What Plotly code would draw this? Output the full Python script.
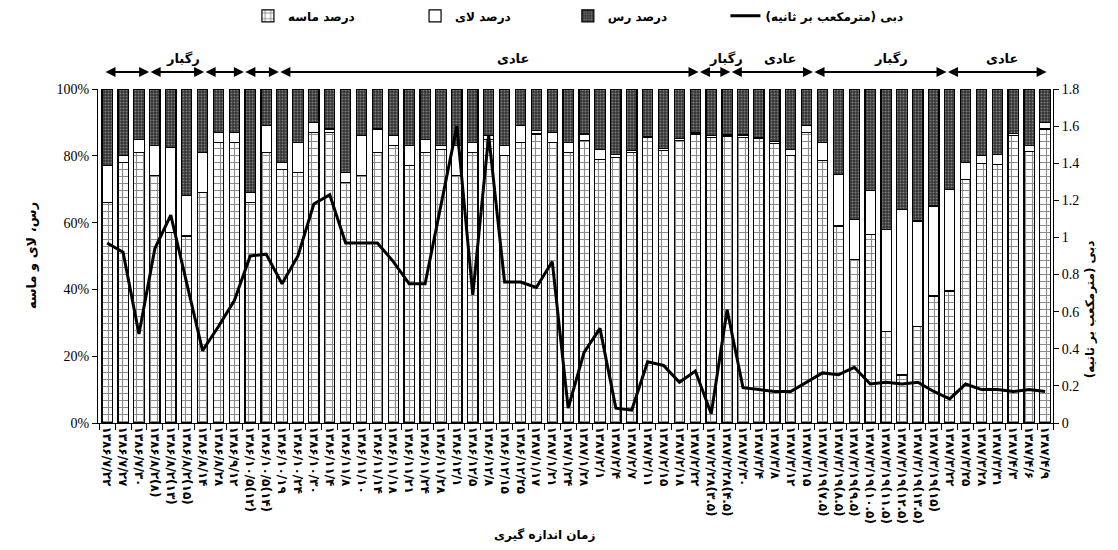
import plotly.graph_objects as go

# ---------------- data ----------------
dates_ascii = [
    "1386/7/22", "1386/7/27", "1386/7/30", "1386/8/2(8)", "1386/8/2(13)", "1386/8/2(15)",
    "1386/8/14", "1386/8/28", "1386/9/12", "1386/10/5(12)", "1386/10/5(14)", "1386/10/19",
    "1386/10/24", "1386/10/30", "1386/11/4", "1386/11/8", "1386/11/10", "1386/11/14",
    "1386/11/18", "1386/11/21", "1386/11/24", "1386/11/28", "1386/12/1", "1386/12/5",
    "1386/12/8", "1386/12/15", "1386/12/25", "1387/1/17", "1387/1/21", "1387/1/24",
    "1387/1/28", "1387/2/1", "1387/2/4", "1387/2/7", "1387/2/11", "1387/2/15",
    "1387/2/18", "1387/2/22", "1387/2/28(3.5)", "1387/2/28(4.5)", "1387/2/30", "1387/3/4",
    "1387/3/8", "1387/3/12", "1387/3/15", "1387/3/19(7.5)", "1387/3/19(8.5)", "1387/3/19(9.5)",
    "1387/3/19(10.5)", "1387/3/19(11.5)", "1387/3/19(12.5)", "1387/3/19(13.5)", "1387/3/19(15)", "1387/3/22",
    "1387/3/25", "1387/3/28", "1387/3/31", "1387/4/3", "1387/4/6", "1387/4/9",
]
FA = str.maketrans("0123456789", "۰۱۲۳۴۵۶۷۸۹")
dates = [d.translate(FA) for d in dates_ascii]

sand = [66, 78, 81, 74, 57, 56, 69, 84, 84, 66, 81, 76, 75, 87, 87, 72, 74, 81, 83, 77,
        81, 82, 74, 81, 85, 80, 84, 86.5, 84, 81, 84.5, 79, 79.5, 81, 85.5, 81.7, 84.7, 86.5, 85.5, 85.9,
        85.5, 85.2, 83.7, 80, 87, 78.5, 59, 49, 56.5, 27.5, 14.4, 29, 38, 39.5, 73, 77.7, 77.5, 86, 81.4, 88]
silt = [11, 2, 4, 9, 25.5, 12, 12, 3, 3, 3, 8, 2, 9, 3, 1, 3, 12, 7, 3, 6,
        4, 1, 9, 3, 1, 3, 5, 1, 3, 3, 2, 3, 1, 0.5, 0.3, 0.5, 0.5, 0.3, 0.5, 0.3,
        0.7, 0.3, 0.7, 2, 2, 5.5, 15.5, 12, 13, 30.5, 49.6, 31.5, 27, 30.3, 5, 2.5, 3, 0.7, 1.8, 2]
clay = [23, 20, 15, 17, 17.5, 32, 19, 13, 13, 31, 11, 22, 16, 10, 12, 25, 14, 12, 14, 17,
        15, 17, 17, 16, 14, 17, 11, 12.5, 13, 16, 13.5, 18, 19.5, 18.5, 14.2, 17.8, 14.8, 13.2, 14, 13.8,
        13.8, 14.5, 15.6, 18, 11, 16, 25.5, 39, 30.5, 42, 36, 39.5, 35, 30.2, 22, 19.8, 19.5, 13.3, 16.8, 10]
discharge = [0.97, 0.92, 0.48, 0.94, 1.12, 0.76, 0.39, 0.52, 0.66, 0.90, 0.91, 0.75, 0.90, 1.18, 1.23,
             0.97, 0.97, 0.97, 0.87, 0.75, 0.75, 1.17, 1.60, 0.69, 1.55, 0.76, 0.76, 0.73, 0.87, 0.08,
             0.38, 0.51, 0.08, 0.07, 0.33, 0.31, 0.22, 0.28, 0.05, 0.61, 0.19, 0.18, 0.17, 0.17, 0.22,
             0.27, 0.26, 0.30, 0.21, 0.22, 0.21, 0.22, 0.17, 0.13, 0.21, 0.18, 0.18, 0.17, 0.18, 0.17]

# flow-regime periods along the top (category-index boundaries)
period_bounds = [-0.2, 2.64, 6.1, 8.6, 10.8, 37.2, 39.2, 44.4, 52.8, 59.1]
period_names = ["رگبار", "عادی", "رگبار", "عادی", "رگبار", "عادی"]
period_label_x = [4.8, 25.5, 38.9, 42.3, 49.3, 56.3]

name_sand = "درصد ماسه"
name_silt = "درصد لای"
name_clay = "درصد رس"
name_q = "\u200fدبی (مترمکعب بر ثانیه)\u200f"
title_y = "رس، لای و ماسه"
title_y2 = "\u200fدبی (مترمکعب بر ثانیه)\u200f"
title_x = "زمان اندازه گیری"

FA_FONT = "DejaVu Sans"
SERIF = "Liberation Serif"

fig = go.Figure()
fig.add_trace(go.Bar(
    x=dates, y=sand, name=name_sand, legend="legend",
    marker=dict(color="white", line=dict(color="black", width=1.2),
                pattern=dict(shape="+", fgcolor="#1a1a1a", bgcolor="white", size=7, solidity=0.3)),
))
fig.add_trace(go.Bar(
    x=dates, y=silt, name=name_silt, legend="legend2",
    marker=dict(color="white", line=dict(color="black", width=1.2)),
))
fig.add_trace(go.Bar(
    x=dates, y=clay, name=name_clay, legend="legend3",
    marker=dict(color="#3c3c3c", line=dict(color="black", width=1.2),
                pattern=dict(shape=".", fgcolor="#c8c8c8", bgcolor="#333333", size=3, solidity=0.35)),
))
fig.add_trace(go.Scatter(
    x=dates, y=discharge, name=name_q, yaxis="y2", mode="lines", legend="legend4",
    line=dict(color="black", width=3),
))

annotations = []
Y_ARROW = 1.051  # paper units
Y_LABEL = 1.09
for i in range(len(period_bounds) - 1):
    annotations.append(dict(
        x=period_bounds[i + 1], y=Y_ARROW, ax=period_bounds[i], ay=0,
        xref="x", yref="paper", axref="x", ayref="pixel", text="", showarrow=True,
        arrowhead=2, arrowside="end+start", arrowwidth=2, arrowsize=1, arrowcolor="black",
    ))
for name, xp in zip(period_names, period_label_x):
    annotations.append(dict(x=xp, y=Y_LABEL, xref="x", yref="paper", yanchor="middle",
                            text=name, showarrow=False,
                            font=dict(family=FA_FONT, size=13, color="black", weight="bold")))

annotations.append(dict(x=-0.08, y=0.5, xref="paper", yref="paper", text=title_y, textangle=-90,
                        showarrow=False, font=dict(family=FA_FONT, size=13, color="black", weight="bold")))
annotations.append(dict(x=1.049, y=0.34, xref="paper", yref="paper", text=title_y2, textangle=-90,
                        showarrow=False, font=dict(family=FA_FONT, size=12, color="black", weight="bold")))
annotations.append(dict(x=0.468, y=-0.362, xref="paper", yref="paper", text=title_x,
                        showarrow=False, font=dict(family=FA_FONT, size=12, color="black", weight="bold")))

leg_common = dict(orientation="h", yanchor="middle", xanchor="left", y=1.219,
                  bgcolor="rgba(0,0,0,0)", font=dict(family=FA_FONT, size=12, color="black", weight="bold"))

fig.update_layout(
    width=1110, height=542,
    margin=dict(l=90, r=65, t=81, b=127, autoexpand=False),
    paper_bgcolor="white", plot_bgcolor="white",
    barmode="stack", bargap=0.35,
    showlegend=True,
    legend=dict(x=0.157, **leg_common),
    legend2=dict(x=0.332, **leg_common),
    legend3=dict(x=0.492, **leg_common),
    legend4=dict(x=0.657, **leg_common),
    xaxis=dict(type="category", tickangle=90, tickson="boundaries", ticks="outside", ticklen=6,
               tickcolor="black", showline=True, linecolor="black", linewidth=1, showgrid=False,
               automargin=False,
               tickfont=dict(family=FA_FONT, size=12, color="black", weight="bold")),
    yaxis=dict(range=[0, 100], dtick=20, ticksuffix="%", ticks="outside", ticklen=5, tickcolor="black",
               showline=True, linecolor="black", linewidth=1, showgrid=False, zeroline=False,
               automargin=False, tickfont=dict(family=SERIF, size=14, color="black")),
    yaxis2=dict(range=[0, 1.8], dtick=0.2, overlaying="y", side="right", ticks="outside", ticklen=5,
                tickcolor="black", showline=True, linecolor="black", linewidth=1, showgrid=False,
                zeroline=False, automargin=False, tickfont=dict(family=SERIF, size=14, color="black")),
    annotations=annotations,
)

fig.write_html("out.html")
